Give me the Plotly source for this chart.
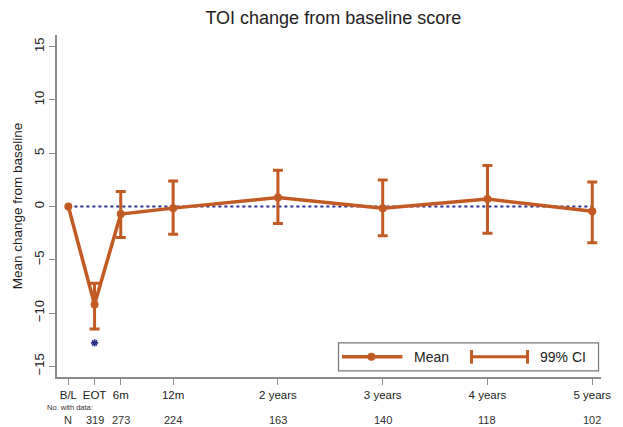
import plotly.graph_objects as go

# Data
time_labels = ["B/L", "EOT", "6m", "12m", "2 years", "3 years", "4 years", "5 years"]
time_months = [0, 3, 6, 12, 24, 36, 48, 60]
mean_change = [0.0, -9.2, -0.7, -0.15, 0.85, -0.15, 0.7, -0.45]
ci_upper = [None, -7.2, 1.4, 2.4, 3.4, 2.5, 3.85, 2.3]
ci_lower = [None, -11.5, -2.9, -2.6, -1.6, -2.75, -2.5, -3.4]
n_with_data = ["N", "319", "273", "224", "163", "140", "118", "102"]
signif_x = [3]
signif_y = [-12.8]

ORANGE = "#C25A24"
NAVY = "#2B2F8C"
FONT = "Liberation Sans, Arial, sans-serif"

err_plus = [None if u is None else u - m for u, m in zip(ci_upper, mean_change)]
err_minus = [None if l is None else m - l for l, m in zip(ci_lower, mean_change)]

fig = go.Figure()

# baseline reference line
fig.add_trace(go.Scatter(
    x=[time_months[0], time_months[-1]], y=[0, 0], mode="lines",
    line=dict(color=NAVY, width=2, dash="dot"), showlegend=False, hoverinfo="skip"))

# CI error bars
fig.add_trace(go.Scatter(
    x=time_months[1:], y=mean_change[1:], mode="markers",
    marker=dict(size=1, color="rgba(0,0,0,0)"),
    error_y=dict(type="data", symmetric=False, array=err_plus[1:], arrayminus=err_minus[1:],
                 color=ORANGE, thickness=3, width=5),
    showlegend=False, hoverinfo="skip"))

# Mean line
fig.add_trace(go.Scatter(
    x=time_months, y=mean_change, mode="lines+markers",
    line=dict(color=ORANGE, width=3.5),
    marker=dict(color=ORANGE, size=8),
    showlegend=False))

# significance star
fig.add_trace(go.Scatter(
    x=signif_x, y=signif_y, mode="markers",
    marker=dict(symbol="asterisk-open", size=6, color=NAVY, line=dict(color=NAVY, width=1.6)),
    showlegend=False, hoverinfo="skip"))

fig.update_layout(
    width=623, height=427,
    margin=dict(l=57, r=16, t=35, b=50),
    paper_bgcolor="white", plot_bgcolor="white",
    font=dict(family=FONT, color="#222"),
    title=dict(text="TOI change from baseline score", x=0.535, xanchor="center",
               y=0.958, yanchor="middle", font=dict(size=18, color="#222")),
    showlegend=False,
)

fig.update_xaxes(
    range=[-1.3, 61.0], tickmode="array", tickvals=time_months, ticktext=time_labels,
    showline=True, linecolor="#8a8a8a", linewidth=1.5, ticks="outside", ticklen=6,
    tickcolor="#8a8a8a", showgrid=False, zeroline=False,
    tickfont=dict(size=11.5, color="#222"))

fig.update_yaxes(
    range=[-16.0, 16.1], tickvals=[-15, -10, -5, 0, 5, 10, 15], tickangle=-90,
    showline=True, linecolor="#8a8a8a", linewidth=1.5, ticks="outside", ticklen=6,
    tickcolor="#8a8a8a", showgrid=False, zeroline=False,
    tickfont=dict(size=13, color="#222"),
    title=dict(text="Mean change from baseline", font=dict(size=13.5, color="#222"), standoff=6))

# "No. with data" row
fig.add_annotation(text="No. with data:", x=-0.022, y=-0.0906, xref="paper", yref="paper",
                   xanchor="left", yanchor="middle", showarrow=False,
                   font=dict(size=7.5, color="#333"))
for t, n in zip(time_months, n_with_data):
    fig.add_annotation(text=n, x=t, y=-0.126, xref="x", yref="paper",
                       xanchor="center", yanchor="middle", showarrow=False,
                       font=dict(size=11, color="#333"))

# Manual legend
lx0, lx1, ly0, ly1 = 0.5175, 0.9955, 0.018, 0.100
fig.add_shape(type="rect", xref="paper", yref="paper", x0=lx0, x1=lx1, y0=ly0, y1=ly1,
              line=dict(color="#777", width=1.2), fillcolor="white", layer="below")
ym = (ly0 + ly1) / 2
fig.add_shape(type="line", xref="paper", yref="paper", x0=0.524, x1=0.635, y0=ym, y1=ym,
              line=dict(color=ORANGE, width=3.5), layer="below")
fig.add_trace(go.Scatter(x=[0.578], y=[ym], xaxis="x2", yaxis="y2", mode="markers",
                         marker=dict(color=ORANGE, size=8), showlegend=False, hoverinfo="skip"))
fig.add_annotation(text="Mean", x=0.653, y=ym, xref="paper", yref="paper", xanchor="left",
                   yanchor="middle", showarrow=False, font=dict(size=14, color="#222"))
fig.add_shape(type="line", xref="paper", yref="paper", x0=0.762, x1=0.865, y0=ym, y1=ym,
              line=dict(color=ORANGE, width=3))
for xc in (0.762, 0.865):
    fig.add_shape(type="line", xref="paper", yref="paper", x0=xc, x1=xc, y0=ym - 0.02, y1=ym + 0.02,
                  line=dict(color=ORANGE, width=3))
fig.add_annotation(text="99% CI", x=0.884, y=ym, xref="paper", yref="paper", xanchor="left",
                   yanchor="middle", showarrow=False, font=dict(size=14, color="#222"))

fig.update_layout(
    xaxis2=dict(domain=[0, 1], range=[0, 1], visible=False, overlaying="x", anchor="y2"),
    yaxis2=dict(domain=[0, 1], range=[0, 1], visible=False, overlaying="y", anchor="x2"),
)

fig.write_html("out.html")
